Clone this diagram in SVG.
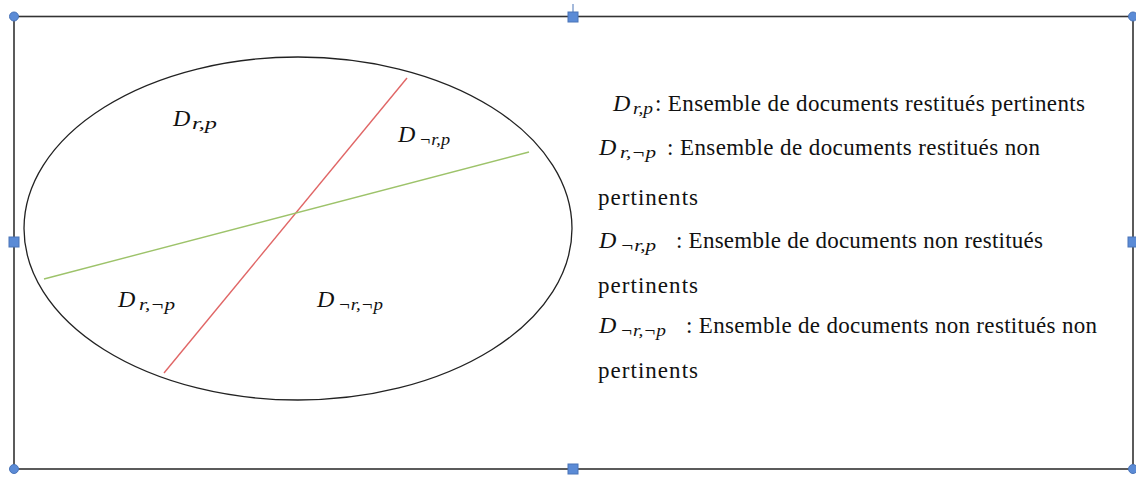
<svg xmlns="http://www.w3.org/2000/svg" width="1136" height="477" viewBox="0 0 1136 477">
<style>
.t{font-family:"Liberation Serif","Times New Roman",serif;font-size:23px;fill:#111}
.m{font-family:"Liberation Serif","Times New Roman",serif;font-size:24px;font-style:italic;fill:#111}
.s{font-family:"Liberation Serif","Times New Roman",serif;font-size:17px;font-style:italic;fill:#111}
.h{fill:#5b8bd6;stroke:#4a74b8;stroke-width:1}
</style>
<rect width="1136" height="477" fill="#fff"/>
<g id="frame">
<rect x="14" y="16.5" width="1119" height="452.5" fill="none" stroke="#333" stroke-width="1.6"/>
<line x1="573" y1="4" x2="573" y2="16" stroke="#4a74b8" stroke-width="1"/>
<circle class="h" cx="14" cy="16.5" r="4.5"/>
<circle class="h" cx="1133" cy="16.5" r="4.5"/>
<circle class="h" cx="14" cy="469" r="4.5"/>
<circle class="h" cx="1133" cy="469" r="4.5"/>
<rect class="h" x="568" y="12" width="10" height="10"/>
<rect class="h" x="568" y="464" width="10" height="10"/>
<rect class="h" x="9" y="237" width="10" height="10"/>
<rect class="h" x="1128" y="237" width="10" height="10"/>
</g>
<g id="ellipse">
<ellipse cx="298" cy="228.5" rx="274" ry="171.5" fill="none" stroke="#222" stroke-width="1.3"/>
</g>
<g id="connectors">
<line x1="407" y1="78" x2="164" y2="373" stroke="#e06666" stroke-width="1.4"/>
<line x1="529" y1="152" x2="44" y2="279" stroke="#9dc36a" stroke-width="1.4"/>
</g>
<g id="label-rp">
<text class="m" x="173" y="126" textLength="18">D</text>
<text class="s" x="192" y="129" textLength="25" lengthAdjust="spacingAndGlyphs">r,p</text>
</g>
<g id="label-nrp">
<text class="m" x="398" y="142" textLength="18">D</text>
<text class="s" x="419" y="145" textLength="31" lengthAdjust="spacingAndGlyphs">¬r,p</text>
</g>
<g id="label-rnp">
<text class="m" x="118" y="307" textLength="18">D</text>
<text class="s" x="139" y="310" textLength="36" lengthAdjust="spacingAndGlyphs">r,¬p</text>
</g>
<g id="label-nrnp">
<text class="m" x="317" y="307" textLength="18">D</text>
<text class="s" x="338" y="310" textLength="45" lengthAdjust="spacingAndGlyphs">¬r,¬p</text>
</g>
<g id="legend">
<text class="m" x="613" y="111" textLength="18">D</text>
<text class="s" x="633" y="114" textLength="20" lengthAdjust="spacingAndGlyphs">r,p</text>
<text class="t" x="655" y="111" textLength="430">: Ensemble de documents restitués pertinents</text>
<text class="m" x="599" y="155" textLength="18">D</text>
<text class="s" x="620" y="158" textLength="36" lengthAdjust="spacingAndGlyphs">r,¬p</text>
<text class="t" x="667" y="155" textLength="373">: Ensemble de documents restitués non</text>
<text class="t" x="598" y="205" textLength="100">pertinents</text>
<text class="m" x="599" y="248" textLength="18">D</text>
<text class="s" x="620" y="251" textLength="36" lengthAdjust="spacingAndGlyphs">¬r,p</text>
<text class="t" x="676" y="248" textLength="367">: Ensemble de documents non restitués</text>
<text class="t" x="598" y="293" textLength="100">pertinents</text>
<text class="m" x="599" y="333" textLength="18">D</text>
<text class="s" x="620" y="336" textLength="46" lengthAdjust="spacingAndGlyphs">¬r,¬p</text>
<text class="t" x="686" y="333" textLength="411">: Ensemble de documents non restitués non</text>
<text class="t" x="598" y="378" textLength="100">pertinents</text>
</g>
</svg>
